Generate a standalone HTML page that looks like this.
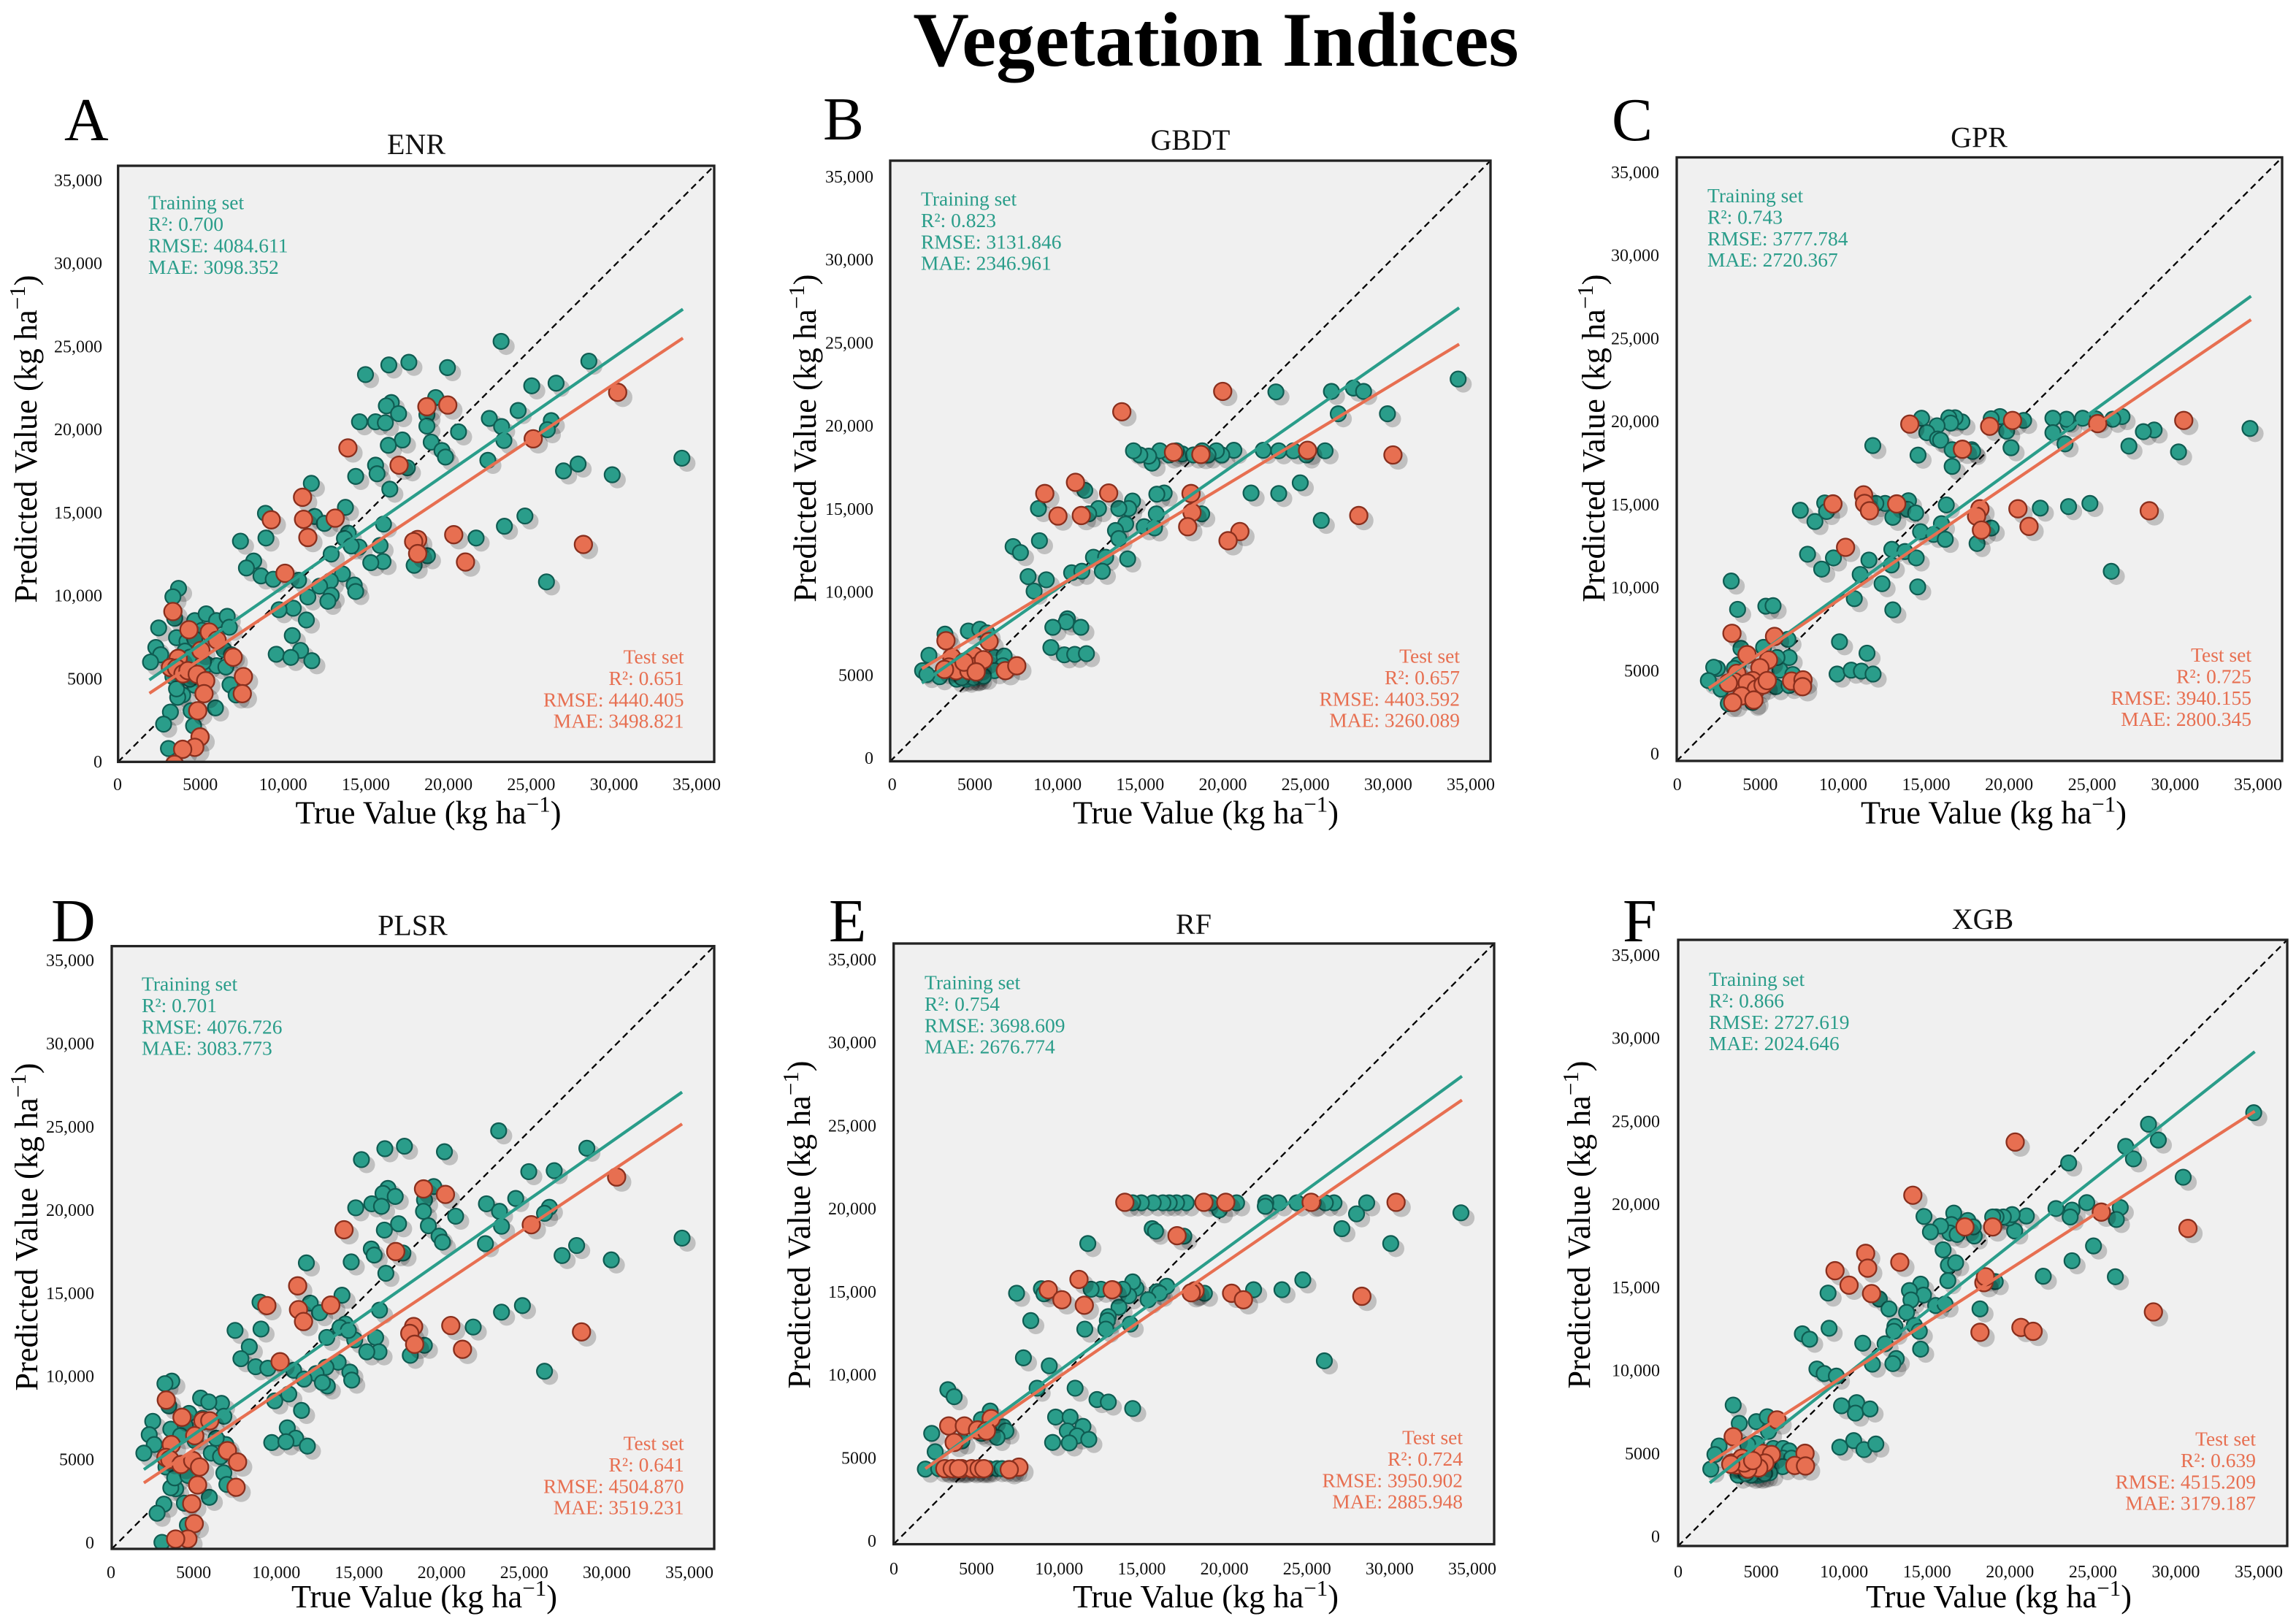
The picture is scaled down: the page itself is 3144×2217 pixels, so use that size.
<!DOCTYPE html>
<html lang="en">
<head>
<meta charset="utf-8">
<title>Vegetation Indices</title>
<style>
html,body{margin:0;padding:0;background:#fff;}
svg{display:block;}
text{font-family:"Liberation Serif",serif;}
</style>
</head>
<body>
<svg id="figure" xmlns="http://www.w3.org/2000/svg" width="3144" height="2217" viewBox="0 0 3144 2217">
<rect x="0" y="0" width="3144" height="2217" fill="#ffffff"/>
<text x="1665" y="90" font-size="106" font-weight="700" text-anchor="middle" fill="#000">Vegetation Indices</text>
</svg>
<script>
const tickValues = [0,5000,10000,15000,20000,25000,30000,35000];
const tickLabels = ['0','5000','10,000','15,000','20,000','25,000','30,000','35,000'];
const axisMin = [0];
const axisMax = [36000];

const enrTrainX = [23130,28430,16350,17560,19890,14940,26450,24980,19180,16500,16200,16940,18650,14580,15550,16140,18650,22420,24160,23160,26160,25920,20560,23300,18910,17170,16320,19560,19770,22330,34050,27780,26900,29840,15550,15640,17470,14350,11670,16410,13730,8900,11870,12460,16030,24570,23330,21620,13900,13670,8930,7390,14550,14080,15820,12870,8190,7750,16000,15260,18680,17880,8630,9370,13550,12820,10900,12170,14260,14350,25870,11460,12870,12670,10580,9720,11370,10520,11020,9550,10430,11700,3650,3310,2450,4630,5320,5950,6590,6720,2280,2570,1960,3530,4160,5070,6400,6840,5370,5950,6510,3310,6760,7130,3900,3600,3530,5880,4410,3160,2750,4560,3040,4630,4040,4340,4630,4340,5150,3420];
const enrTrainY = [25395,24200,23970,24130,23810,23390,22870,22710,22000,21700,21500,21030,20960,20540,20540,20480,20280,20740,21220,20250,20610,20060,19930,19410,19310,19440,19120,18800,18410,18210,18340,17990,17570,17340,17920,17400,17760,17240,16820,16470,15370,15010,14820,14400,14360,14850,14230,13520,13810,13490,13520,13330,12970,13040,13070,12550,12130,11710,12100,12030,12450,11870,11230,11030,11350,10930,10970,10610,10680,10290,10870,9960,10060,9700,9280,9190,8570,7630,6730,6500,6310,6110,10480,9970,8090,8530,8940,8530,8790,8130,6910,6470,6030,7500,7280,7940,6760,6470,5880,5810,5730,5150,4660,4040,4040,3900,4410,3260,3090,3010,2280,2180,810,7420,6690,6320,4630,5000,6030,8670];
const enrTestX = [30170,19910,18650,13880,16970,25070,11140,9250,11200,13110,11460,18090,17850,20270,18090,20980,28100,10080,3310,4280,5510,5980,5000,3630,6950,3160,3530,3920,4220,4780,7570,5290,7500,5190,4810,4950,4630,3900,3410];
const enrTestY = [22320,21550,21450,18960,17920,19510,15980,14620,14650,14720,13550,13430,13300,13720,12580,12070,13130,11390,9080,7980,7840,7350,6730,6250,6320,5700,5660,5320,5510,5290,5150,4900,4120,4120,3090,1510,880,760,-150];
const enrLineTrain = [1890,4950,34110,27340];
const enrLineTest = [1890,4140,34110,25590];

const gbdtTrainX = [34060,23130,26460,27780,28390,26870,29820,26080,24970,24180,23300,22370,20610,19880,19560,19060,18710,17510,17160,16730,16170,15700,15500,14970,14590,18190,21640,24590,23300,16430,15990,11670,12490,14530,14300,13710,11900,8890,15960,18680,25850,14120,15230,15850,13510,13710,8950,7370,7810,12190,12920,14240,12720,10880,11490,8270,9360,8630,10629,10556,9753,11432,9636,10439,11067,11768,3285,4687,5373,5811,2322,1942,6249,6833,6760,6249,3986,4570,2964,2200,4600,4900,5100,5300,5000,4300,5600];
const gbdtTrainY = [22910,22140,22170,22370,22170,20830,20830,18610,18360,18610,18610,18640,18640,18360,18610,18360,18610,18420,18610,18360,18610,17870,18290,18360,18610,18360,16080,16690,16050,16080,16010,16240,15150,15600,15150,15150,14830,15150,14830,14830,14440,14220,14060,13990,13830,13350,13220,12870,12510,12230,12230,12130,11390,11300,11390,11070,10880,10200,8541,8351,8030,8030,6819,6381,6410,6454,7621,7811,7913,7694,6352,5433,6235,6308,5725,5433,4922,4922,5068,5200,5050,5030,5050,5080,5000,5000,5100];
const gbdtTestX = [19940,13890,30150,25030,18630,16990,11110,9270,13100,18040,10060,11460,18100,28100,17840,20970,20260,3344,5928,3694,5037,3519,5227,5592,3957,6906,7592,3256,4716,4424,5154];
const gbdtTestY = [22170,20950,18360,18640,18390,18520,16720,16050,16080,16050,14700,14730,14920,14730,14060,13770,13220,7228,7184,6235,6308,5652,5725,6090,5433,5433,5725,5506,5433,5943,5360];
const gbdtLineTrain = [1900,4690,34120,27180];
const gbdtLineTest = [1900,5550,34120,25000];

const gprTrainX = [34090,29840,28390,27750,26890,26480,25930,24920,24140,23300,23180,23090,22370,22370,20630,19880,19220,18700,19620,16960,16550,16180,16290,15480,14560,14870,15510,15690,14350,11660,16380,17540,17600,16380,21620,23300,24570,16030,13780,13720,14210,12390,11840,12850,8800,8910,7350,8220,15740,14500,15280,15970,18700,17860,12790,13570,14240,7780,9320,11430,8620,10910,12760,25840,12210,14330,3240,10560,12850,5300,5730,3620,9680,11316,9536,10375,10983,11677,3820,5166,6613,6685,2417,2200,1881,2634,6135,6902,5889,6685,3068,4515,3647,3430,5962];
const gprTrainY = [19830,18430,19740,19640,18780,20540,20380,20400,20440,20120,20380,18910,20440,19580,20310,18680,20540,20410,19670,20220,20470,20470,20150,19990,20440,19580,19200,19130,18240,18810,18560,18560,18460,17570,15080,15170,15360,15270,15520,15010,14790,15360,15360,14530,15390,14880,14950,14280,14150,13670,13510,13220,13890,12970,12620,12490,12110,12330,12110,11980,11440,11120,11690,11310,10570,10380,10730,9680,9010,9230,9260,9040,7107,6427,5182,5414,5356,5182,6716,6774,7252,6166,5515,5588,4792,4285,5414,5154,4430,4502,3417,3489,5732,5515,6166];
const gprTestX = [30150,19970,13860,25030,18610,16990,11110,9290,13080,11170,11460,18030,17830,20290,18120,20950,28100,10040,3285,5817,4182,5455,4949,3574,3430,4515,4196,4732,5137,6830,7510,7481,3864,3328,4587,5383,3068];
const gprTestY = [20310,20310,20090,20120,19960,18590,15870,15330,15330,15360,14920,15040,14600,15040,13770,13990,14920,12740,7613,7425,6340,6022,5559,5226,4719,4792,4647,4285,4531,4763,4835,4430,3880,3489,3634,4792,4647];
const gprLineTrain = [1910,4200,34150,27720];
const gprLineTest = [1910,4340,34150,26320];

const plsrTrainX = [23120,17490,16320,19880,28390,14920,26440,24920,19240,16500,16210,16940,18690,15540,16120,14580,18630,22390,24140,23170,26150,25860,20550,23290,18920,17140,16290,19560,19760,22330,34080,27780,26910,29850,15510,15680,17400,14310,11630,16380,13760,8860,11860,12420,16000,24540,23290,21600,13960,13640,8920,7370,14520,14140,15770,12850,8220,7720,15970,15240,18680,17840,8600,9330,13530,12800,10870,12210,14230,14340,25860,11490,12880,12590,3590,3180,10580,9740,11340,3410,5310,6560,4610,5800,2450,6700,10490,3530,2240,2540,10990,9560,10410,11690,1920,6820,6240,5950,6500,3240,6700,6880,3820,3530,3760,4550,5830,4340,3120,2710,4520,3000,4400,4980,4110,5420];
const plsrTrainY = [24970,24050,23900,23720,23930,23250,22590,22530,21640,21530,21230,21050,20840,20610,20460,20370,20160,20610,20930,20160,20400,20040,19870,19270,19300,19420,19040,18680,18320,18230,18560,18120,17520,17260,17910,17550,17670,17140,17080,16460,15150,14740,14680,14110,14260,14530,14140,13250,13430,13220,13130,13050,12480,13050,12630,12630,12070,11360,11770,11770,12160,11560,10880,10790,11150,10850,10670,10470,10560,10080,10610,10140,9730,9930,10020,9870,9250,8840,8270,8540,9010,8690,8090,8780,7620,7920,7230,7150,6820,6230,6610,6350,6400,6140,5720,6230,6610,5720,5510,4890,4540,3850,3590,3650,4240,4390,3080,2730,2670,2130,1420,390,7350,6460,6760,7800];
const plsrTestX = [30170,19940,18630,13880,16970,25070,11110,9270,11160,13090,11460,18040,17810,20260,18100,20960,28070,10060,3260,4200,5450,5860,4960,3560,6910,3240,3470,4140,7520,4840,5250,5130,7430,4780,4930,4550,3820];
const plsrTestY = [22210,21170,21500,19060,17760,19360,15710,14530,14290,14560,13580,13280,12870,13340,12220,11920,12960,11180,8890,7860,7650,7650,6760,6230,5870,5460,5340,5040,5190,5280,4890,3820,3680,2700,1510,590,590];
const plsrLineTrain = [1920,4740,34080,27280];
const plsrLineTest = [1920,3940,34080,25380];

const rfTrainX = [34010,29800,28360,27750,26870,26400,25880,25150,24180,23100,22310,22280,20560,19530,19010,17540,16960,16520,16140,15560,14850,14330,15500,15700,17400,11640,25820,21580,23280,24530,18630,18010,16370,15790,15940,15260,14530,14330,14090,13740,13220,12430,11840,8860,9010,7370,13510,14180,12870,12810,12720,11460,8220,7780,9330,8600,10880,12190,12870,14330,3250,3630,9710,10580,11350,10410,11000,11700,9530,10530,5790,5260,6580,6730,6200,2280,2490,4090,5260,1900,2700,3000,3300,3600,3900,4200,4500,4800,5100,5400,5700,6200,6500,6900,7200];
const rfTrainY = [19860,18020,20460,19800,18910,20460,20460,20460,20460,20460,20460,20250,20460,20040,20460,20460,20460,20460,20460,20460,20460,20460,18910,18760,18460,18020,10990,15250,15250,15840,15040,15070,15460,15130,15040,14650,15340,15720,14890,15280,15280,15280,15280,15310,15010,15040,14200,13190,13640,13400,12890,12890,13400,11170,10690,9350,9350,8670,8520,8130,9260,8840,7620,7620,7060,6790,6490,6280,6100,6070,7980,7470,7030,6790,6400,6640,5540,6190,6640,4500,4530,4530,4530,4530,4530,4530,4530,4530,4530,4530,4530,4530,4530,4530,4530];
const rfTestX = [30120,19910,13860,18600,25030,16990,11110,9270,13100,10090,11430,18070,17840,20260,20970,28070,3300,4240,5850,5030,5560,3630,7510,6930,3070,3510,4090,4680,5120,5410,3890];
const rfTestY = [20490,20490,20490,20490,20490,18490,15870,15250,15250,14650,14320,15190,15070,15040,14650,14860,7090,7090,7530,6850,6790,6100,4620,4470,4530,4530,4530,4530,4530,4530,4530];
const rfLineTrain = [1900,4530,34070,28050];
const rfLineTest = [1900,4530,34070,26620];

const xgbTrainX = [34020,27800,28380,26450,26910,23080,29850,24150,26130,25900,22330,23280,23170,20580,19890,19540,19740,19220,18790,18590,17120,16290,17500,17440,16150,16060,16490,15510,14910,14530,15660,15970,16400,15940,18740,24550,23280,21580,25840,14330,14500,13670,13760,8860,11890,15220,15770,12460,13500,17840,13960,12810,14250,12750,8920,7340,7770,10910,12230,14330,12890,12690,11480,8200,8630,9350,9655,10548,10476,11339,3252,3611,4619,5266,5338,2417,9555,10375,10979,11684,2172,1928,4619,4115,5626,6202,6561,6202,6705,6173,3540,5410,4500,4700,4900,5100,4300,4000];
const xgbTrainY = [25730,25050,24110,23730,22990,22750,21900,20390,20100,19390,20040,19950,19540,19600,18710,19480,19680,19540,19540,19540,19330,19770,18410,18950,19090,18590,18500,19000,18650,19570,17590,16670,16820,15760,15700,17820,16940,16020,15990,15550,14900,15170,14610,15020,14670,14280,14370,14080,13870,14080,13100,13040,12750,12750,12930,12600,12280,12040,12010,11690,11130,10830,10800,10510,10240,10090,8325,8513,7891,8137,8368,7284,7385,7674,6807,5939,5867,6257,5722,6055,5433,4565,6084,6011,5794,5794,5650,5216,5216,4710,4204,4349,4250,4200,4250,4300,4200,4300];
const xgbTestX = [19920,13870,18590,25010,16950,30130,11080,11200,13100,9270,10100,11430,18070,18160,20260,20980,17840,28090,5842,3252,4979,5511,7497,6892,7526,5122,3468,3180,3755,4763,4115,3899,4403,3108];
const xgbTestY = [23990,20830,18950,19830,18950,18860,17380,16500,16850,16350,15490,14990,15640,15990,12980,12750,12690,13900,7486,6488,5505,5433,5505,4782,4753,4927,4811,4927,5216,4638,4565,4927,5071,4854];
const xgbLineTrain = [1870,3750,34080,29360];
const xgbLineTest = [1870,4960,34080,25820];

const panels = [
 {key:'enr',title:'ENR',letter:'A',trainX:enrTrainX,trainY:enrTrainY,testX:enrTestX,testY:enrTestY,lineTrain:enrLineTrain,lineTest:enrLineTest,
  box:[161.7,978,227,1043.3],letterPos:[88,192],titlePos:[570,211],xLabelPos:[586.5,1127.5],yLabelPos:[50,601],xTick:[161,954,1082],yTick:[140,1043,247],
  trainPos:[203,286.7],testPos:[936.5,908.5],trainStats:['Training set','R²: 0.700','RMSE: 4084.611','MAE: 3098.352'],testStats:['Test set','R²: 0.651','RMSE: 4440.405','MAE: 3498.821']},
 {key:'gbdt',title:'GBDT',letter:'B',trainX:gbdtTrainX,trainY:gbdtTrainY,testX:gbdtTestX,testY:gbdtTestY,lineTrain:gbdtLineTrain,lineTest:gbdtLineTest,
  box:[1219,2041,220,1042.5],letterPos:[1127,191],titlePos:[1630,205],xLabelPos:[1651,1127.5],yLabelPos:[1117,600],xTick:[1221.7,2014,1082],yTick:[1196,1038,242],
  trainPos:[1261,281.5],testPos:[1999,907.5],trainStats:['Training set','R²: 0.823','RMSE: 3131.846','MAE: 2346.961'],testStats:['Test set','R²: 0.657','RMSE: 4403.592','MAE: 3260.089']},
 {key:'gpr',title:'GPR',letter:'C',trainX:gprTrainX,trainY:gprTrainY,testX:gprTestX,testY:gprTestY,lineTrain:gprLineTrain,lineTest:gprLineTest,
  box:[2296,3125,215.5,1042],letterPos:[2207,192],titlePos:[2710,201.6],xLabelPos:[2730,1127.5],yLabelPos:[2197,600],xTick:[2296.7,3092,1082],yTick:[2272,1032,236],
  trainPos:[2338,277],testPos:[3083,906],trainStats:['Training set','R²: 0.743','RMSE: 3777.784','MAE: 2720.367'],testStats:['Test set','R²: 0.725','RMSE: 3940.155','MAE: 2800.345']},
 {key:'plsr',title:'PLSR',letter:'D',trainX:plsrTrainX,trainY:plsrTrainY,testX:plsrTestX,testY:plsrTestY,lineTrain:plsrLineTrain,lineTest:plsrLineTest,
  box:[153,978,1295.6,2121],letterPos:[70,1289],titlePos:[565,1280.6],xLabelPos:[581,2201],yLabelPos:[51,1680],xTick:[152,944,2161],yTick:[129,2112.6,1315],
  trainPos:[194,1356.5],testPos:[936.5,1985.5],trainStats:['Training set','R²: 0.701','RMSE: 4076.726','MAE: 3083.773'],testStats:['Test set','R²: 0.641','RMSE: 4504.870','MAE: 3519.231']},
 {key:'rf',title:'RF',letter:'E',trainX:rfTrainX,trainY:rfTrainY,testX:rfTestX,testY:rfTestY,lineTrain:rfLineTrain,lineTest:rfLineTest,
  box:[1223.7,2046,1292,2114.6],letterPos:[1135,1289],titlePos:[1634.5,1279],xLabelPos:[1651,2201],yLabelPos:[1109,1677],xTick:[1224,2016,2156],yTick:[1200,2110,1314],
  trainPos:[1266,1354.5],testPos:[2003,1977.5],trainStats:['Training set','R²: 0.754','RMSE: 3698.609','MAE: 2676.774'],testStats:['Test set','R²: 0.724','RMSE: 3950.902','MAE: 2885.948']},
 {key:'xgb',title:'XGB',letter:'F',trainX:xgbTrainX,trainY:xgbTrainY,testX:xgbTestX,testY:xgbTestY,lineTrain:xgbLineTrain,lineTest:xgbLineTest,
  box:[2298,3132,1287,2117],letterPos:[2222,1289],titlePos:[2715,1272],xLabelPos:[2737,2201],yLabelPos:[2177,1677],xTick:[2298,3093,2160],yTick:[2273,2104,1308],
  trainPos:[2340,1350],testPos:[3089,1979.5],trainStats:['Training set','R²: 0.866','RMSE: 2727.619','MAE: 2024.646'],testStats:['Test set','R²: 0.639','RMSE: 4515.209','MAE: 3179.187']}
];

const SVGNS = 'http://www.w3.org/2000/svg';
const root = document.getElementById('figure');
const TEAL = '#2a9d8a', TEAL_EDGE = '#0f5c52', ORANGE = '#e76f51', ORANGE_EDGE = '#8a2f1d';

function make(tag, attrs, parent) {
  const el = document.createElementNS(SVGNS, tag);
  for (const k in attrs) el.setAttribute(k, attrs[k]);
  parent.appendChild(el);
  return el;
}

function addUnitText(parent, lead, size) {
  parent.appendChild(document.createTextNode(lead));
  const sup = make('tspan', {dy: -size * 0.36, 'font-size': size * 0.7}, parent);
  sup.textContent = '\u22121';
  const close = make('tspan', {dy: size * 0.36}, parent);
  close.textContent = ')';
}

function drawPanel(p) {
  const [left, right, top, bottom] = p.box;
  const sx = v => left + (v - axisMin[0]) / (axisMax[0] - axisMin[0]) * (right - left);
  const sy = v => bottom - (v - axisMin[0]) / (axisMax[0] - axisMin[0]) * (bottom - top);

  const g = make('g', {}, root);
  
  

  const letter = make('text', {x: p.letterPos[0], y: p.letterPos[1], 'font-size': 84, fill: '#000'}, g);
  
  
  letter.textContent = p.letter;

  const title = make('text', {x: p.titlePos[0], y: p.titlePos[1], 'font-size': 40, 'text-anchor': 'middle', fill: '#111'}, g);
  
  
  title.textContent = p.title;

  const bg = make('rect', {x: left, y: top, width: right - left, height: bottom - top, fill: '#f0f0f0'}, g);
  
  

  const clipId = 'clip-' + p.key;
  const clip = make('clipPath', {id: clipId}, g);
  make('rect', {x: left, y: top, width: right - left, height: bottom - top}, clip);
  const plot = make('g', {'clip-path': 'url(#' + clipId + ')'}, g);
  
  

  const diag = make('line', {x1: sx(axisMin[0]), y1: sy(axisMin[0]), x2: sx(axisMax[0]), y2: sy(axisMax[0]), stroke: '#000', 'stroke-width': 2.3, 'stroke-dasharray': '9 6'}, plot);
  
  

  const drawPoints = (xs, ys, fill, edge, r, sw, kind) => {
    const shadowGroup = make('g', {fill: 'rgba(0,0,0,0.2)'}, plot);
    
    
    const pointGroup = make('g', {fill: fill, stroke: edge, 'stroke-width': sw}, plot);
    
    
    xs.forEach((v, i) => {
      const shadow = make('circle', {cx: sx(v) + 7, cy: sy(ys[i]) + 7, r: r + sw / 2}, shadowGroup);
      
      
      const dot = make('circle', {cx: sx(v), cy: sy(ys[i]), r: r}, pointGroup);
      
      
    });
  };
  drawPoints(p.trainX, p.trainY, TEAL, TEAL_EDGE, 10.5, 2.2, 'train');
  drawPoints(p.testX, p.testY, ORANGE, ORANGE_EDGE, 12, 2.3, 'test');

  const trainLine = make('line', {x1: sx(p.lineTrain[0]), y1: sy(p.lineTrain[1]), x2: sx(p.lineTrain[2]), y2: sy(p.lineTrain[3]), stroke: TEAL, 'stroke-width': 4.2}, plot);
  
  
  const testLine = make('line', {x1: sx(p.lineTest[0]), y1: sy(p.lineTest[1]), x2: sx(p.lineTest[2]), y2: sy(p.lineTest[3]), stroke: ORANGE, 'stroke-width': 4.2}, plot);
  
  

  const frame = make('rect', {x: left, y: top, width: right - left, height: bottom - top, fill: 'none', stroke: '#222', 'stroke-width': 3.3}, g);
  
  

  const xStep = (p.xTick[1] - p.xTick[0]) / 35000;
  const yStep = (p.yTick[1] - p.yTick[2]) / 35000;
  tickValues.forEach((v, i) => {
    const xt = make('text', {x: p.xTick[0] + v * xStep, y: p.xTick[2], 'font-size': 24, 'text-anchor': 'middle', fill: '#111'}, g);
    
    
    xt.textContent = tickLabels[i];
    const yt = make('text', {x: p.yTick[0], y: p.yTick[1] - v * yStep + 8, 'font-size': 24, 'text-anchor': 'end', fill: '#111'}, g);
    
    
    yt.textContent = tickLabels[i];
  });

  const xLabel = make('text', {x: p.xLabelPos[0], y: p.xLabelPos[1], 'font-size': 44.3, 'text-anchor': 'middle', fill: '#000'}, g);
  
  
  addUnitText(xLabel, 'True Value (kg ha', 44.3);

  const yLabel = make('text', {x: 0, y: 0, 'font-size': 44.3, 'text-anchor': 'middle', fill: '#000', transform: 'translate(' + p.yLabelPos[0] + ',' + p.yLabelPos[1] + ') rotate(-90)'}, g);
  
  
  addUnitText(yLabel, 'Predicted Value (kg ha', 44.3);

  p.trainStats.forEach((line, i) => {
    const t = make('text', {x: p.trainPos[0], y: p.trainPos[1] + i * 29.4, 'font-size': 27.5, fill: '#2a9d8a'}, g);
    
    
    t.textContent = line;
  });
  p.testStats.forEach((line, i) => {
    const t = make('text', {x: p.testPos[0], y: p.testPos[1] + i * 29.4, 'font-size': 27.5, 'text-anchor': 'end', fill: '#e76f51'}, g);
    
    
    t.textContent = line;
  });
}

panels.forEach(drawPanel);
</script>
</body>
</html>
